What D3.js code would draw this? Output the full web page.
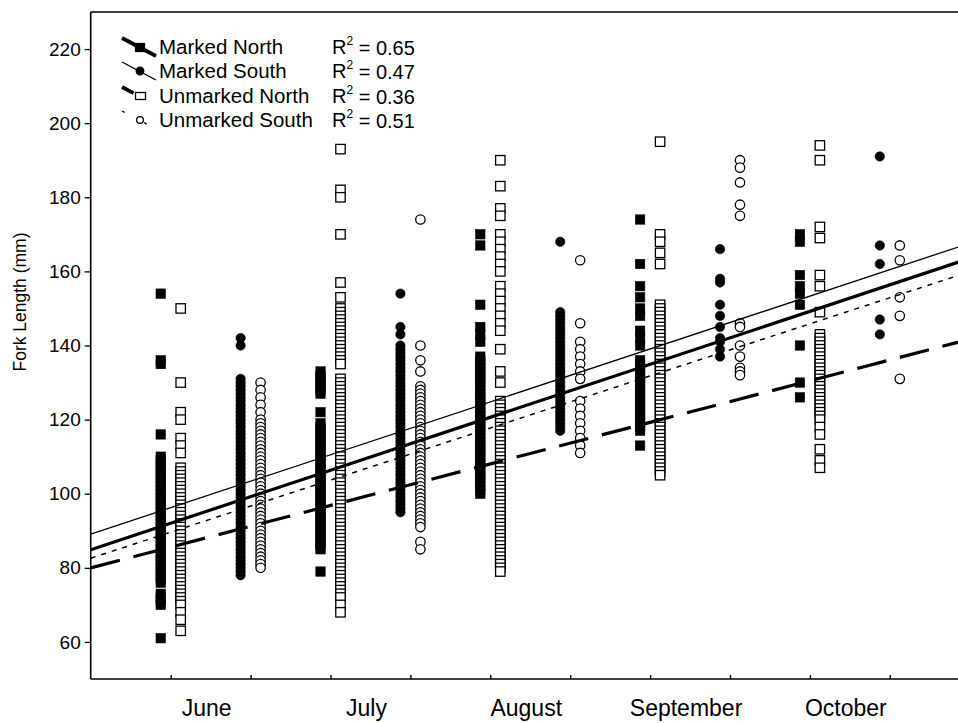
<!DOCTYPE html>
<html><head><meta charset="utf-8">
<script src="https://cdn.jsdelivr.net/npm/d3@7"></script>
<style>
body{margin:0;background:#fff}
svg{display:block}
text{font-family:"Liberation Sans",Arial,Helvetica,sans-serif;fill:#000}
</style>
</head><body>
<svg id="chart" width="958" height="723"></svg>
<script>
// ---------- DATA ----------
const months = ["June","July","August","September","October"];
const yTickValues = [60,80,100,120,140,160,180,200,220];
const xTickValues = [0,1,2,3,4,5,6,7,8,9];
const seriesNames = ["Marked North","Marked South","Unmarked North","Unmarked South"];
const rSquared = ["0.65","0.47","0.36","0.51"];

// fork lengths (mm) per month: June, July, August, September, October
const markedNorth = [
  [154,136,135,116,110,109,108,107,106,105,104,103,102,101,100,99,98,97,96,95,94,93,92,91,90,89,88,87,86,85,84,83,82,81,80,79,78,77,76,73,72,71,70,61],
  [133,132,131,130,129,128,127,122,119,118,117,116,115,114,113,112,111,110,109,108,107,106,105,104,103,102,101,100,99,98,97,96,95,94,93,92,91,90,89,88,87,86,85,79],
  [170,167,151,145,143,141,137,136,135,134,133,132,131,130,129,128,127,126,125,124,123,122,121,120,119,118,117,116,115,114,113,112,111,110,109,108,107,106,105,104,103,102,101,100],
  [174,162,156,153,150,148,144,142,140,136,135,134,133,132,131,130,129,128,127,126,125,124,123,122,121,120,119,118,117,113],
  [170,168,159,156,154,151,140,130,126]
];
const markedSouth = [
  [142,140,131,130,129,128,127,126,125,124,123,122,121,120,119,118,117,116,115,114,113,112,111,110,109,108,107,106,105,104,103,102,101,100,99,98,97,96,95,94,93,92,91,90,89,88,87,86,85,84,83,82,81,80,79,78],
  [154,145,143,140,139,138,137,136,135,134,133,132,131,130,129,128,127,126,125,124,123,122,121,120,119,118,117,116,115,114,113,112,111,110,109,108,107,106,105,104,103,102,101,100,99,98,97,96,95],
  [168,149,148,147,146,145,144,143,142,141,140,139,138,137,136,135,134,133,132,131,130,129,128,127,126,125,124,123,122,121,120,119,118,117],
  [166,158,157,151,148,145,142,141,139,137],
  [191,167,162,147,143]
];
const unmarkedNorth = [
  [150,130,122,120,115,113,111,107,106,105,104,103,102,101,100,99,98,97,96,95,94,93,92,91,90,89,88,87,86,85,84,83,82,81,80,79,78,77,76,75,74,73,72,71,70,68,66,63],
  [193,182,180,170,157,153,150,149,148,147,146,145,144,143,142,141,140,139,138,137,136,135,131,130,129,128,127,126,125,124,123,122,121,120,119,118,117,116,115,114,113,112,111,110,109,108,107,106,105,104,103,102,101,100,99,98,97,96,95,94,93,92,91,90,89,88,87,86,85,84,83,82,81,80,79,78,77,76,75,74,73,72,70,68],
  [190,183,177,175,170,168,166,164,162,160,156,154,152,150,148,146,144,139,133,130,125,124,123,122,121,120,119,118,117,116,115,114,113,112,111,110,109,108,107,106,105,104,103,102,101,100,99,98,97,96,95,94,93,92,91,90,89,88,87,86,85,84,83,82,81,80,79],
  [195,170,168,165,162,151,150,149,148,147,146,145,144,143,142,141,140,139,138,137,136,135,134,133,132,131,130,129,128,127,126,125,124,123,122,121,120,119,118,117,116,115,114,113,112,111,110,109,108,107,106,105],
  [194,190,172,169,159,156,149,143,142,141,140,139,138,137,136,135,134,133,132,131,130,129,128,127,126,125,124,123,122,121,120,118,116,112,109,107]
];
const unmarkedSouth = [
  [130,128,126,124,122,120,119,118,117,116,115,114,113,112,111,110,109,108,107,106,105,104,103,102,101,100,99,98,97,96,95,94,93,92,91,90,89,88,87,86,85,84,83,82,81,80],
  [174,140,136,133,129,128,127,126,125,124,123,122,121,120,119,118,117,116,115,114,113,112,111,110,109,108,107,106,105,104,103,102,101,100,99,98,97,96,95,94,93,92,91,87,85],
  [163,146,141,139,137,135,133,131,125,123,121,119,117,115,113,111],
  [190,188,184,178,175,146,145,140,137,134,133,132],
  [167,163,153,148,131]
];
// regression line values (mm) at the left (x=-1) and right (x=10) ends of the x domain
const fitMarkedNorth = [84.9,163.5];
const fitMarkedSouth = [89.1,167.6];
const fitUnmarkedNorth = [80.0,141.7];
const fitUnmarkedSouth = [82.6,159.9];

// ---------- LAYOUT ----------
const svg = d3.select("#chart");
const W = 958, H = 723;
const plot = {left:90.7, top:12, bottom:679};
const x = d3.scaleLinear().domain([-1,10]).range([90.8, 969.7]);
const y = d3.scaleLinear().domain([50,230]).range([plot.bottom, plot.top]);

const seriesDefs = [
  {name:seriesNames[0], data:markedNorth,  south:0, off:-0.125, shape:"square", filled:true,  fit:fitMarkedNorth,  width:3.2, dash:null},
  {name:seriesNames[1], data:markedSouth,  south:1, off:-0.125, shape:"circle", filled:true,  fit:fitMarkedSouth,  width:1.3, dash:null},
  {name:seriesNames[2], data:unmarkedNorth,south:0, off: 0.125, shape:"square", filled:false, fit:fitUnmarkedNorth,width:3.2, dash:"30,14"},
  {name:seriesNames[3], data:unmarkedSouth,south:1, off: 0.125, shape:"circle", filled:false, fit:fitUnmarkedSouth,width:1.5, dash:"5,6"}
];

svg.append("defs").append("clipPath").attr("id","pc")
  .append("rect").attr("x",plot.left).attr("y",plot.top).attr("width",W-plot.left+20).attr("height",plot.bottom-plot.top);

// markers
const SQ = 9.4, R = 4.7;
const gPts = svg.append("g");
seriesDefs.forEach(s=>{
  s.data.forEach((vals,m)=>{
    const xv = 2*m + s.south + s.off;
    const sorted = vals.slice().sort((a,b)=>b-a);
    const g = gPts.append("g");
    if(s.shape==="square"){
      g.selectAll("rect").data(sorted).join("rect")
        .attr("x",x(xv)-SQ/2).attr("y",d=>y(d)-SQ/2)
        .attr("width",SQ).attr("height",SQ)
        .attr("fill",s.filled?"#000":"#fff")
        .attr("stroke","#000").attr("stroke-width",s.filled?0.6:1.3);
    } else {
      g.selectAll("circle").data(sorted).join("circle")
        .attr("cx",x(xv)).attr("cy",d=>y(d)).attr("r",R)
        .attr("fill",s.filled?"#000":"#fff")
        .attr("stroke","#000").attr("stroke-width",s.filled?0.6:1.3);
    }
  });
});

// regression lines
const gFit = svg.append("g").attr("clip-path","url(#pc)");
seriesDefs.forEach(s=>{
  const [d0,d1] = x.domain();
  gFit.append("line")
    .attr("x1",x(d0)).attr("y1",y(s.fit[0]))
    .attr("x2",x(d1)).attr("y2",y(s.fit[1]))
    .attr("stroke","#000").attr("stroke-width",s.width)
    .attr("stroke-dasharray",s.dash);
});

// axes frame
const frame = svg.append("g").attr("stroke","#000").attr("stroke-width",1.6).attr("fill","none");
frame.append("line").attr("x1",plot.left).attr("x2",plot.left).attr("y1",plot.top).attr("y2",plot.bottom);
frame.append("line").attr("x1",plot.left).attr("x2",W+5).attr("y1",plot.top).attr("y2",plot.top);
frame.append("line").attr("x1",plot.left).attr("x2",W+5).attr("y1",plot.bottom).attr("y2",plot.bottom);

// y axis
const yAxis = d3.axisLeft(y).tickValues(yTickValues).tickSize(6).tickPadding(4).tickFormat(d3.format("d"));
const gy = svg.append("g").attr("transform",`translate(${plot.left},0)`).call(yAxis);
gy.select(".domain").remove();
gy.selectAll(".tick line").attr("stroke","#000").attr("stroke-width",1.3);
gy.selectAll(".tick text").attr("font-size",19).attr("font-family",'"Liberation Sans",Arial,sans-serif').attr("fill","#000");

// x axis (ticks inward, unlabeled)
const xAxis = d3.axisTop(x).tickValues(xTickValues).tickSize(4).tickFormat("");
const gx = svg.append("g").attr("transform",`translate(0,${plot.bottom})`).call(xAxis);
gx.select(".domain").remove();
gx.selectAll(".tick line").attr("stroke","#000").attr("stroke-width",1.4);

// month labels
svg.append("g").selectAll("text").data(months).join("text")
  .attr("x",(d,i)=>x(2*i+0.45)).attr("y",716)
  .attr("text-anchor","middle").attr("font-size",23).text(d=>d);

// y title
svg.append("text").attr("transform","translate(26,302) rotate(-90)")
  .attr("text-anchor","middle").attr("font-size",17.5).text("Fork Length (mm)");

// legend
const legRowY = [47,71,96,120];
const lg = svg.append("g");
seriesDefs.forEach((s,i)=>{
  const cy = legRowY[i];
  const row = lg.append("g");
  let dash = null;
  if(i===2) dash = "13,60";
  if(i===3) dash = "3,22";
  row.append("line").attr("x1",122).attr("y1",cy-9).attr("x2",156).attr("y2",cy+9)
    .attr("stroke","#000").attr("stroke-width",(i===0||i===2)?3.8:1.4)
    .attr("stroke-dasharray",dash);
  if(s.shape==="square"){
    row.append("rect").attr("x",140-4.5).attr("y",cy-3.5).attr("width",i===2?10:9).attr("height",i===2?7:8)
      .attr("fill",s.filled?"#000":"#fff").attr("stroke","#000").attr("stroke-width",1.3);
  } else {
    row.append("circle").attr("cx",140).attr("cy",cy).attr("r",s.filled?3.8:3.4)
      .attr("fill",s.filled?"#000":"#fff").attr("stroke","#000").attr("stroke-width",1.3);
  }
  row.append("text").attr("x",159).attr("y",cy).attr("dy","0.36em").attr("font-size",20.5).text(s.name);
  const t = row.append("text").attr("x",332).attr("y",cy).attr("dy","0.36em").attr("font-size",20);
  t.append("tspan").text("R");
  t.append("tspan").attr("font-size",12).attr("dy","-0.75em").text("2");
  t.append("tspan").attr("dy","0.5em").text(" = " + rSquared[i]);
});
</script>
</body></html>
